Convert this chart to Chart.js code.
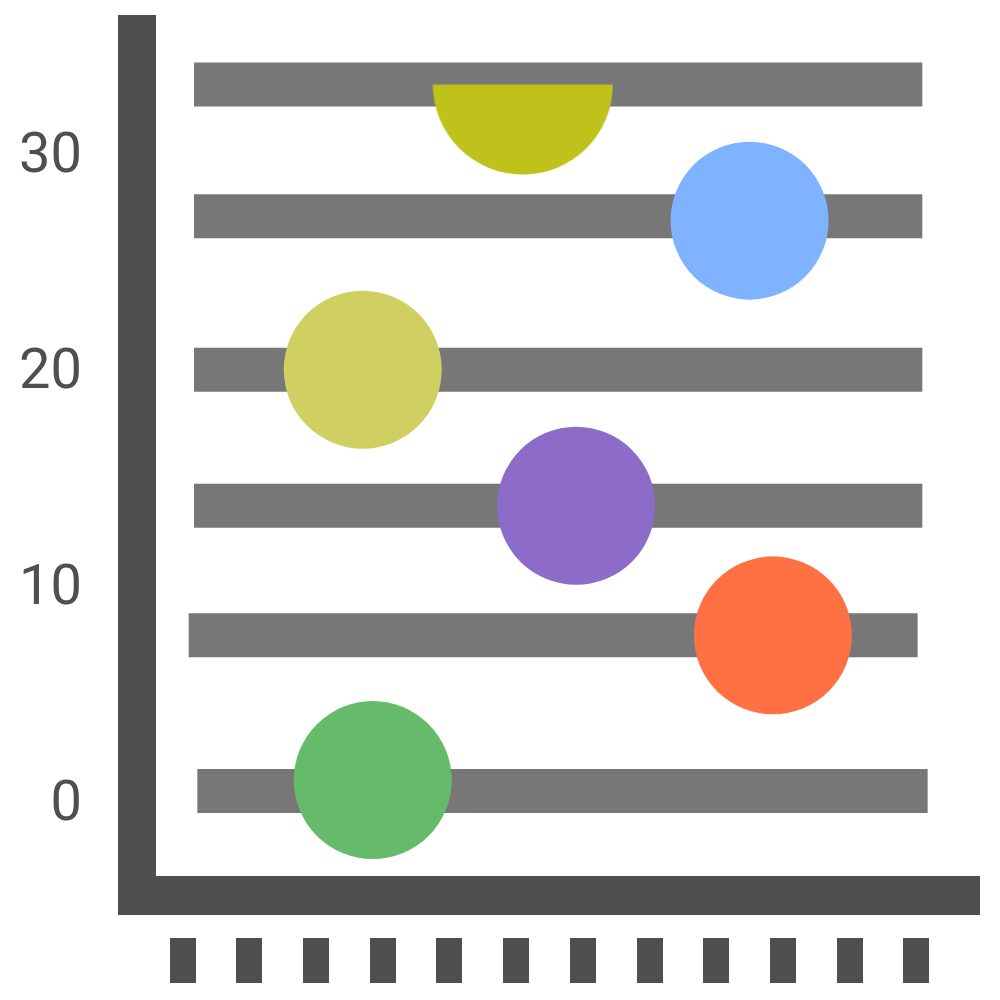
<!DOCTYPE html>
<html>
<head>
<meta charset="utf-8">
<script src="https://cdn.jsdelivr.net/npm/chart.js@4"></script>
<style>
  body { margin: 0; background: #fff; }
</style>
</head>
<body>
<canvas id="chart" width="1000" height="1000"></canvas>
<script>
// y axis tick labels and the 12 category slots along the bottom
const yTicks = [0, 10, 20, 30];
const xTicks = [0, 1, 2, 3, 4, 5, 6, 7, 8, 9, 10, 11];

// gray track bars (level + start/end along x)
const barLevel = [33.4, 27.3, 20.2, 13.9, 7.9, 0.7];
const barStart = [0.17, 0.17, 0.17, 0.17, 0.09, 0.22];
const barEnd = [11.09, 11.09, 11.09, 11.09, 11.02, 11.17];

// round markers
const dotX = [8.5, 2.7, 5.9, 8.85, 2.85];
const dotY = [27.1, 20.2, 13.9, 7.9, 1.2];
const dotColors = ['#80b3ff', '#cfcf62', '#8c6cc8', '#ff7043', '#66bb6a'];

// half marker sitting on the top bar
const halfX = [5.1];
const halfY = [33.4];

const axisColor = '#4f4f4f';
const barColor = '#777777';

// half-disc point style
const half = document.createElement('canvas');
half.width = 181;
half.height = 181;
const hctx = half.getContext('2d');
hctx.fillStyle = '#bfc21a';
hctx.beginPath();
hctx.moveTo(0.5, 90.5);
hctx.arc(90.5, 90.5, 90, 0, Math.PI);
hctx.closePath();
hctx.fill();

// L-shaped frame and the tick blocks under the x axis
const frame = {
    id: 'frame',
    beforeDatasetsDraw(chart) {
        const { ctx, chartArea, scales } = chart;
        ctx.save();
        ctx.fillStyle = axisColor;
        ctx.fillRect(chartArea.left - 38, chartArea.top, 38, chartArea.bottom - chartArea.top + 39);
        ctx.fillRect(chartArea.left - 38, chartArea.bottom, chartArea.right - 3 - (chartArea.left - 38), 39);
        xTicks.forEach(t => {
            const px = scales.x.getPixelForValue(t);
            ctx.fillRect(Math.round(px) - 13, chartArea.bottom + 62, 26, 45);
        });
        ctx.restore();
    }
};

const datasets = [];

datasets.push({
    data: halfX.map((x, i) => ({ x, y: halfY[i] })),
    pointStyle: half,
    pointRadius: 90,
    clip: false,
    order: 0
});

datasets.push({
    data: dotX.map((x, i) => ({ x, y: dotY[i] })),
    backgroundColor: dotColors,
    borderWidth: 0,
    pointRadius: 79,
    pointHoverRadius: 79,
    clip: false,
    order: 1
});

barLevel.forEach((y, i) => {
    datasets.push({
        data: [{ x: barStart[i], y }, { x: barEnd[i], y }],
        showLine: true,
        borderColor: barColor,
        borderWidth: 44,
        borderCapStyle: 'butt',
        pointRadius: 0,
        clip: false,
        order: 2
    });
});

new Chart(document.getElementById('chart'), {
    type: 'scatter',
    data: { datasets },
    plugins: [frame],
    options: {
        responsive: false,
        animation: false,
        layout: { autoPadding: false, padding: { top: 15, bottom: 124, right: 17, left: 0 } },
        plugins: {
            legend: { display: false },
            tooltip: { enabled: false }
        },
        scales: {
            x: {
                type: 'linear',
                display: false,
                min: -0.4,
                max: 12
            },
            y: {
                type: 'linear',
                min: -3.24,
                max: 36.62,
                afterBuildTicks: axis => {
                    axis.ticks = yTicks.map(v => ({ value: v }));
                },
                afterFit: axis => {
                    axis.width = 156;
                    axis.paddingTop = 0;
                    axis.paddingBottom = 0;
                },
                grid: { display: false, drawTicks: false },
                border: { display: false },
                ticks: {
                    padding: 74,
                    color: axisColor,
                    font: { family: 'Roboto', size: 56 }
                }
            }
        }
    }
});
</script>
</body>
</html>
